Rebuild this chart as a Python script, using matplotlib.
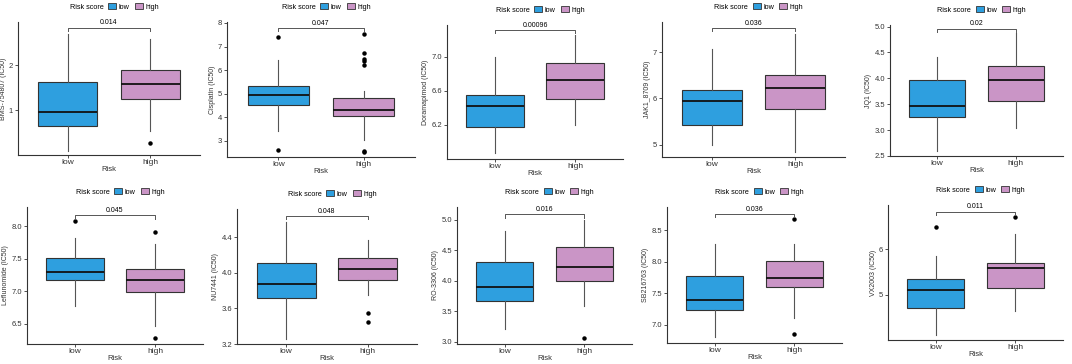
import matplotlib
matplotlib.use("Agg")
import matplotlib.pyplot as plt
from matplotlib.patches import Patch

plt.rcParams['font.family'] = ['Liberation Sans', 'DejaVu Sans']

# Data (box stats: whislo, q1, med, q3, whishi)
drugs = ["BMS-754807", "Cisplatin", "Doramapimod", "JAK1_8709", "JQ1",
         "Leflunomide", "NU7441", "RO-3306", "SB216763", "VX2003"]
p_values = ["0.014", "0.047", "0.00096", "0.036", "0.02",
            "0.045", "0.048", "0.016", "0.036", "0.011"]
low_stats = [(0.10, 0.65, 0.95, 1.64, 2.71),
             (3.40, 4.53, 4.96, 5.34, 6.42),
             (5.87, 6.17, 6.42, 6.55, 6.99),
             (5.00, 5.42, 5.94, 6.18, 7.08),
             (2.59, 3.25, 3.46, 3.97, 4.41),
             (6.77, 7.17, 7.30, 7.52, 7.83),
             (3.26, 3.72, 3.87, 4.11, 4.57),
             (3.20, 3.67, 3.89, 4.30, 4.82),
             (6.80, 7.24, 7.40, 7.78, 8.28),
             (4.11, 4.70, 5.10, 5.34, 5.85)]
high_stats = [(0.54, 1.25, 1.59, 1.89, 2.60),
              (3.04, 4.05, 4.32, 4.81, 5.12),
              (6.20, 6.50, 6.73, 6.92, 7.25),
              (4.84, 5.78, 6.23, 6.51, 7.40),
              (3.05, 3.56, 3.96, 4.23, 4.87),
              (6.47, 6.99, 7.18, 7.35, 7.73),
              (3.75, 3.92, 4.05, 4.17, 4.37),
              (3.58, 3.99, 4.23, 4.55, 4.99),
              (7.11, 7.60, 7.74, 8.01, 8.28),
              (4.63, 5.14, 5.59, 5.69, 6.35)]
low_fliers = [[], [7.40, 2.60], [], [], [], [8.09], [], [], [], [6.49]]
high_fliers = [[0.26], [7.53, 6.71, 6.49, 6.40, 6.22, 2.57, 2.52], [], [], [],
               [7.91, 6.29], [3.55, 3.45], [3.06], [8.68, 6.86], [6.71]]
bracket_y = [2.84, 7.79, 7.31, 7.53, 4.96, 8.17, 4.64, 5.09, 8.76, 6.83]
y_limits = [(0.0, 2.97), (2.31, 8.04), (5.80, 7.37), (4.73, 7.66), (2.5, 5.03),
            (6.19, 8.30), (3.2, 4.72), (2.96, 5.21), (6.71, 8.87), (4.0, 6.98)]
y_ticks = [["1", "2"], ["3", "4", "5", "6", "7", "8"], ["6.2", "6.6", "7.0"],
           ["5", "6", "7"], ["2.5", "3.0", "3.5", "4.0", "4.5", "5.0"],
           ["6.5", "7.0", "7.5", "8.0"], ["3.2", "3.6", "4.0", "4.4"],
           ["3.0", "3.5", "4.0", "4.5", "5.0"], ["7.0", "7.5", "8.0", "8.5"],
           ["5", "6"]]
groups = ["low", "high"]
colors = ["#2E9FDF", "#CA95C6"]

# Axes rectangles in pixels: left, right, top, bottom
axes_px = [(18, 200, 22, 155), (227, 415, 22, 157), (447, 623, 25, 159),
           (662, 845, 22, 157), (890, 1063, 25, 156),
           (27, 203, 207, 344), (237, 417, 209, 344), (457, 632, 207, 344),
           (667, 842, 207, 343), (888, 1063, 205, 340)]

W, H = 1072, 364
fig = plt.figure(figsize=(W / 100, H / 100), dpi=100)

for i, drug in enumerate(drugs):
    l, r, t, b = axes_px[i]
    ax = fig.add_axes([l / W, 1 - b / H, (r - l) / W, (b - t) / H])

    stats = []
    for name, s, fl in [(groups[0], low_stats[i], low_fliers[i]),
                        (groups[1], high_stats[i], high_fliers[i])]:
        stats.append(dict(label=name, whislo=s[0], q1=s[1], med=s[2],
                          q3=s[3], whishi=s[4], fliers=fl))
    bp = ax.bxp(stats, positions=[1, 2], widths=0.72, patch_artist=True,
                showcaps=False,
                boxprops=dict(edgecolor="#333333", linewidth=0.8),
                medianprops=dict(color="#111111", linewidth=1.3),
                whiskerprops=dict(color="#555555", linewidth=0.8),
                flierprops=dict(marker='o', markersize=2.2,
                                markerfacecolor='black', markeredgecolor='black'))
    for patch, c in zip(bp['boxes'], colors):
        patch.set_facecolor(c)

    # significance bracket
    y0, y1 = y_limits[i]
    by = bracket_y[i]
    drop = (y1 - y0) * 0.025
    ax.plot([1, 1, 2, 2], [by - drop, by, by, by - drop], color="#555555", lw=0.7)
    ax.text(1.5, by + drop * 0.4, p_values[i], ha='center', va='bottom', fontsize=5)

    ax.set_xlim(0.4, 2.6)
    ax.set_ylim(y0, y1)
    ax.set_yticks([float(v) for v in y_ticks[i]])
    ax.set_yticklabels(y_ticks[i])
    ax.set_xticks([1, 2])
    ax.set_xticklabels(groups)
    for side in ['top', 'right']:
        ax.spines[side].set_visible(False)
    for side in ['left', 'bottom']:
        ax.spines[side].set_color("#333333")
        ax.spines[side].set_linewidth(0.8)
    ax.tick_params(labelsize=5.5, length=2, width=0.6, pad=1.5, colors="#333333")
    ax.tick_params(axis='x', labelsize=6, pad=1)
    ax.set_xlabel("Risk", fontsize=5.5, labelpad=0, color="#333333")
    ax.set_ylabel(f"{drug} (IC50)", fontsize=5, labelpad=1.5, color="#333333")

    handles = [Patch(visible=False),
               Patch(facecolor=colors[0], edgecolor="#333333", lw=0.6),
               Patch(facecolor=colors[1], edgecolor="#333333", lw=0.6)]
    cx = (l + r) / 2 / W
    ty = (t - 15) / H
    ax.legend(handles, ["Risk score", "low", "high"], ncol=3, frameon=False,
              fontsize=5.2, handlelength=1.1, handleheight=0.9,
              handletextpad=0.35, columnspacing=0.7,
              loc='center', bbox_to_anchor=(cx, 1 - ty), bbox_transform=fig.transFigure)

fig.savefig("out.png", dpi=100)
